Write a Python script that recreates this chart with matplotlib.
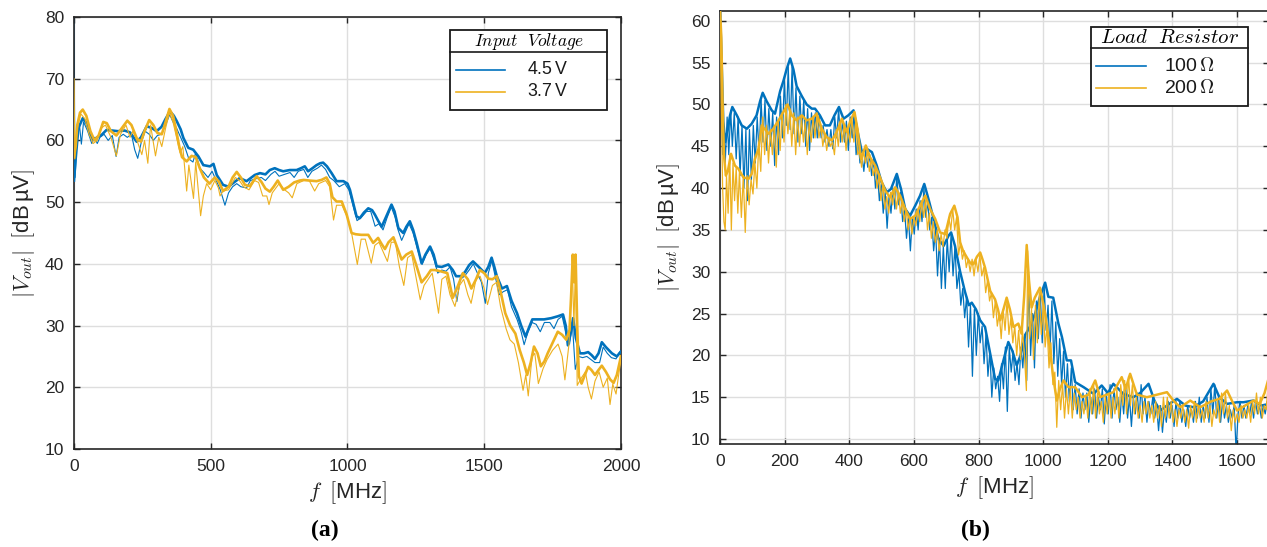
import matplotlib
matplotlib.use("Agg")
import matplotlib.pyplot as plt
from matplotlib.lines import Line2D
from matplotlib.patches import Rectangle

plt.rcParams["font.family"] = ["Liberation Sans", "DejaVu Sans"]
plt.rcParams["mathtext.fontset"] = "cm"

BLUE = "#0072BD"
ORANGE = "#EDB120"

# ---------------- panel (a): input voltage ----------------
a_45_raw = [(0, 80), (2, 65), (4, 54), (10, 59.5), (20, 62.5), (27, 59.4), (35, 63), (50, 61.5), (65, 59.5),
            (75, 60.5), (85, 59.5), (95, 60.5), (110, 61), (125, 60), (140, 60.8), (154, 57.4), (165, 60.5),
            (180, 61), (195, 60.5), (210, 61), (222, 58.5), (233, 57.1), (245, 59.5), (260, 61.5), (275, 61),
            (290, 60), (305, 60.8), (320, 61), (335, 62.5), (350, 64.2), (362, 63), (375, 62), (390, 60.5),
            (405, 59), (420, 57), (435, 56.5), (445, 58), (460, 55.5), (475, 54.8), (490, 54), (505, 55),
            (520, 53.5), (535, 52), (552, 49.5), (565, 51.5), (580, 52.5), (595, 53), (610, 52.5), (631, 52.3),
            (645, 53.5), (665, 53.8), (685, 54), (700, 53.5), (720, 54.5), (735, 55), (750, 54.2), (770, 54.5),
            (790, 54.8), (805, 54), (820, 55), (840, 55.3), (855, 54), (870, 55), (890, 55.5), (905, 56),
            (920, 55.3), (935, 54), (950, 53.5), (970, 52.5), (990, 53), (1005, 52), (1020, 49.5), (1035, 47),
            (1050, 47.5), (1070, 48.5), (1085, 48.5), (1101, 46.1), (1115, 46.5), (1130, 45.5), (1145, 47.5),
            (1160, 49.2), (1175, 47.5), (1185, 45.5), (1198, 43.8), (1210, 45), (1225, 46.5), (1240, 45),
            (1255, 42.5), (1273, 39.9), (1288, 41.5), (1302, 42.5), (1318, 40.5), (1330, 38.5), (1345, 39),
            (1360, 38.8), (1375, 39.5), (1388, 37.5), (1400, 33.9), (1412, 37.5), (1428, 38), (1445, 39),
            (1460, 40), (1475, 38.5), (1490, 37), (1504, 33.6), (1515, 38.5), (1528, 40.5), (1540, 38),
            (1555, 35), (1570, 35.5), (1585, 35.8), (1600, 33), (1620, 31), (1635, 29), (1646, 26.9),
            (1660, 29), (1675, 30.5), (1690, 30.2), (1705, 29), (1720, 30.5), (1740, 30.5), (1755, 29.5),
            (1770, 31), (1785, 31.5), (1795, 29.5), (1803, 27.7), (1812, 27), (1822, 30.5), (1833, 22.9),
            (1845, 25), (1860, 24.8), (1875, 25), (1890, 24.5), (1905, 24), (1922, 24), (1935, 26.5),
            (1950, 25.5), (1965, 24.8), (1982, 24.6), (1992, 25.5), (2000, 26)]

a_45_smooth = [(0, 53.5), (6, 57), (16, 62), (32, 63.6), (46, 62.8), (60, 60.8), (71, 60.1), (85, 60.5),
               (101, 60.9), (119, 61.7), (140, 61.6), (160, 61.5), (185, 61.6), (205, 61.3), (229, 59.8),
               (245, 60.5), (266, 62.3), (285, 62), (302, 61.5), (320, 62.2), (335, 63.5), (351, 64.7),
               (365, 64), (376, 63.1), (390, 61.8), (400, 60.4), (418, 58.8), (436, 58.5), (455, 57.4),
               (473, 56), (497, 55.8), (510, 56.2), (522, 54.4), (545, 52.8), (565, 52.5), (582, 53.1),
               (606, 53.9), (631, 53.4), (661, 54.4), (680, 54.7), (700, 54.5), (716, 55.2), (734, 55.5),
               (750, 55.2), (765, 55), (789, 55.2), (814, 55.2), (830, 55.5), (844, 55.8), (856, 55),
               (872, 55.5), (887, 56), (900, 56.3), (911, 56.4), (925, 55.8), (942, 54.7), (960, 53.4),
               (985, 53.4), (1000, 53), (1009, 52), (1020, 50), (1033, 47.7), (1045, 47.4), (1060, 48.3),
               (1076, 49), (1090, 48.7), (1100, 48), (1112, 47), (1125, 46), (1140, 47.5), (1161, 49.6),
               (1172, 48.5), (1186, 45.8), (1204, 45), (1215, 46), (1228, 46.9), (1240, 45.5), (1253, 43.4),
               (1271, 40.1), (1285, 41.5), (1302, 42.8), (1315, 41.5), (1326, 39.6), (1345, 39.5),
               (1369, 39.9), (1385, 39), (1397, 38), (1415, 38), (1430, 38.7), (1445, 39.8), (1459, 40.4),
               (1480, 39.5), (1502, 38.5), (1515, 39.5), (1527, 41), (1537, 39.5), (1546, 38), (1565, 36),
               (1583, 36.4), (1600, 34), (1620, 32), (1635, 30), (1651, 28.2), (1665, 29.8), (1676, 31),
               (1700, 31), (1719, 31), (1745, 31.2), (1769, 31.5), (1788, 31.8), (1798, 30), (1806, 26.8),
               (1815, 28.5), (1825, 31.2), (1835, 28), (1850, 25.5), (1865, 25.5), (1880, 25.7), (1893, 25.2),
               (1905, 24.6), (1918, 25.5), (1930, 27.3), (1945, 26.5), (1967, 25.5), (1985, 25), (2000, 25.8)]

a_37_raw = [(0, 70), (3, 57), (10, 61.5), (25, 64.3), (40, 63.5), (55, 61), (70, 59.5), (85, 60), (100, 62),
            (115, 62.5), (135, 60.5), (155, 57.5), (170, 61), (190, 62.5), (205, 60.5), (215, 61.5),
            (232, 59.8), (248, 57.7), (258, 60), (270, 56.3), (280, 62.5), (298, 57.5), (310, 60.5),
            (321, 59), (335, 62), (349, 64.5), (362, 63), (375, 60.5), (388, 58), (398, 59), (412, 51.8),
            (420, 56), (437, 50.6), (445, 56.5), (463, 47.8), (473, 51), (485, 53), (500, 52), (515, 53.5),
            (528, 52.3), (534, 51), (545, 51.8), (565, 52), (590, 54), (605, 53.5), (620, 52.5), (640, 52),
            (660, 53.5), (675, 53.2), (690, 51), (705, 51), (713, 49.6), (725, 51.5), (750, 53), (770, 52),
            (785, 51.5), (798, 50.7), (815, 53), (840, 53.5), (860, 53.5), (880, 51.8), (895, 53),
            (920, 53.5), (935, 52.5), (949, 47.1), (960, 49.5), (980, 49.5), (1000, 47.5), (1015, 45),
            (1036, 39.9), (1050, 44), (1065, 44), (1087, 40.1), (1100, 43), (1115, 43.5), (1130, 42),
            (1146, 40.4), (1160, 43.5), (1175, 43.5), (1190, 39.5), (1206, 36.5), (1220, 41), (1235, 41.5),
            (1250, 38), (1266, 34.2), (1280, 36.5), (1295, 37.5), (1310, 38.5), (1333, 32), (1345, 37.5),
            (1360, 38), (1375, 35), (1393, 33.1), (1410, 36.5), (1425, 37.5), (1440, 35), (1452, 33.6),
            (1470, 37.5), (1485, 38), (1500, 36), (1512, 33.4), (1530, 36.5), (1545, 37), (1560, 33),
            (1580, 29.5), (1594, 27.7), (1610, 27), (1625, 24), (1642, 19.5), (1652, 22), (1661, 18.6),
            (1675, 25), (1685, 25.5), (1698, 20.6), (1715, 23), (1730, 24.5), (1750, 26), (1770, 27),
            (1785, 25), (1795, 21.2), (1810, 27), (1822, 40), (1828, 30), (1834, 40.5), (1840, 20.3),
            (1855, 21.5), (1870, 22.5), (1880, 20), (1892, 18.1), (1905, 21), (1920, 22.5), (1935, 20),
            (1950, 21.5), (1960, 17.2), (1970, 20.5), (1982, 18.9), (1990, 21.5), (2000, 24.5)]

a_37_smooth = [(0, 57.3), (6, 59), (12, 62.5), (22, 64.5), (32, 65), (45, 64), (60, 61.5), (75, 60),
               (90, 60.8), (107, 63), (120, 62.8), (135, 61.5), (155, 60.8), (175, 62), (195, 63.2),
               (210, 62.5), (230, 60.3), (245, 59.8), (258, 61.5), (275, 63.3), (290, 62.5), (305, 61.2),
               (321, 61), (335, 63), (349, 65.1), (362, 64), (372, 62), (385, 59), (395, 57.3), (412, 56.6),
               (430, 57.5), (445, 57.3), (460, 55.5), (475, 54), (495, 53), (515, 54), (530, 53.3),
               (545, 51.8), (565, 52.5), (580, 54), (595, 54.9), (610, 54), (625, 52.8), (643, 52.6),
               (668, 54.2), (685, 53.3), (700, 52.2), (716, 51.7), (730, 52.5), (745, 53.5), (765, 52),
               (785, 52.5), (805, 53.2), (825, 53.5), (840, 53.6), (860, 53.5), (887, 53.4), (905, 53.6),
               (923, 54), (935, 53), (945, 50.8), (960, 50.1), (979, 50.1), (997, 48), (1015, 45),
               (1030, 44.8), (1050, 44.7), (1076, 44.7), (1094, 43.4), (1112, 44.2), (1125, 43.2),
               (1137, 42.4), (1150, 43.5), (1168, 44.3), (1183, 42.5), (1198, 40.7), (1215, 41.5),
               (1235, 42), (1250, 40), (1271, 37), (1290, 38), (1305, 39), (1320, 39), (1340, 38.8),
               (1365, 38.5), (1385, 34.5), (1400, 36), (1422, 38.5), (1440, 37.5), (1453, 36), (1470, 37.5),
               (1484, 39), (1500, 38.5), (1515, 37.6), (1530, 37.5), (1546, 38), (1560, 35.5), (1577, 32),
               (1595, 30), (1614, 28.7), (1630, 26), (1645, 24), (1657, 22), (1670, 24), (1682, 26.6),
               (1695, 25.5), (1707, 23.4), (1720, 24.2), (1732, 25.5), (1750, 27.2), (1769, 29),
               (1785, 28.5), (1800, 27.7), (1812, 29.3), (1818, 35), (1824, 41.5), (1829, 37), (1834, 41.5),
               (1840, 30), (1846, 21.8), (1856, 20.6), (1868, 22), (1880, 23.3), (1892, 22.8), (1905, 22),
               (1918, 22.8), (1930, 23.5), (1945, 22.5), (1960, 21.3), (1973, 20.7), (1985, 22), (2000, 25)]

# ---------------- panel (b): load resistor ----------------
b_100_raw = [(0, 61.5), (5, 55), (8, 44), (12, 47), (16, 43), (22, 48.5), (27, 44), (33, 49.3), (38, 45),
             (44, 49), (50, 43.5), (56, 48.5), (62, 41.5), (68, 47.5), (74, 40), (80, 47), (85, 38.5),
             (91, 47), (97, 41), (103, 47.5), (109, 43), (115, 48.5), (121, 44), (127, 50.5), (133, 45.5),
             (139, 50.5), (145, 44.5), (151, 49.5), (157, 45), (163, 49), (169, 42.7), (175, 48.5), (181, 44),
             (187, 51), (193, 46), (199, 53), (205, 47.5), (211, 54.5), (217, 47), (223, 54.5), (229, 46.5),
             (235, 52), (241, 45.5), (247, 51), (253, 46.5), (259, 50.5), (265, 45), (271, 49.5), (277, 44.5),
             (283, 49), (289, 46), (295, 49), (301, 46), (307, 48.5), (313, 46), (319, 47.5), (325, 45.5),
             (331, 47), (337, 45), (343, 47), (349, 44.7), (355, 48.5), (361, 46), (367, 49.5), (373, 45.5),
             (379, 48), (385, 45.5), (391, 48), (397, 44.5), (403, 48.5), (409, 46), (415, 49), (421, 44),
             (427, 46), (433, 43), (439, 44), (445, 42), (451, 44.5), (457, 42.5), (463, 44), (469, 41.5),
             (475, 43.5), (481, 40), (487, 42), (493, 38.5), (499, 40.5), (505, 37), (511, 39.5), (517, 35.2),
             (523, 39), (529, 37), (535, 40), (541, 37.5), (547, 41.5), (553, 38), (559, 39.5), (565, 36),
             (571, 37.5), (577, 34), (583, 36.5), (589, 32.5), (595, 36.5), (601, 34.5), (607, 37.5),
             (613, 35), (619, 38.5), (625, 36), (631, 40), (637, 36.5), (643, 38.5), (649, 35), (655, 36.5),
             (661, 32.5), (667, 35), (673, 29.5), (679, 34), (685, 28), (691, 33), (697, 28), (703, 34),
             (709, 30), (715, 34.5), (721, 29.5), (727, 33), (733, 28), (739, 30), (745, 26), (751, 28),
             (757, 24.5), (763, 27), (769, 21), (775, 26), (781, 17.5), (787, 25.5), (793, 20), (799, 25),
             (805, 21.5), (811, 23.5), (817, 19), (823, 22.5), (829, 17.5), (835, 20.5), (841, 15),
             (847, 18.5), (853, 16), (859, 17.5), (865, 14.5), (871, 19), (877, 16), (883, 21), (889, 13.3),
             (895, 21), (901, 18), (907, 20.5), (913, 17), (919, 19), (925, 16.5), (931, 21), (937, 18.5),
             (943, 22.5), (949, 17), (955, 29), (961, 20), (967, 25), (973, 18.5), (979, 26.5), (985, 22),
             (991, 27.5), (997, 21.5), (1003, 28.3), (1009, 23), (1015, 26), (1021, 20.5), (1027, 26.5),
             (1033, 19), (1039, 24), (1045, 17.5), (1051, 22), (1057, 16.5), (1063, 20.5), (1069, 15),
             (1075, 19), (1081, 14.5), (1087, 18.5), (1093, 13.5), (1099, 16.5), (1105, 13), (1111, 16),
             (1117, 12.5), (1123, 15.5), (1129, 13.5), (1135, 15.5), (1141, 12), (1147, 15), (1153, 13),
             (1159, 16), (1165, 12.5), (1171, 15), (1177, 13.5), (1183, 16), (1189, 11.8), (1195, 15.5),
             (1201, 13), (1207, 16.5), (1213, 12.5), (1219, 16), (1225, 13.5), (1231, 15), (1237, 12),
             (1243, 15.5), (1249, 13), (1255, 16.5), (1261, 12.5), (1267, 15), (1273, 11.5), (1279, 15),
             (1285, 13), (1291, 15.5), (1297, 12.5), (1303, 16.5), (1309, 13), (1315, 15), (1321, 12),
             (1327, 14.5), (1333, 13), (1339, 15), (1345, 12.5), (1351, 14), (1357, 11), (1363, 14),
             (1369, 10.8), (1375, 13.5), (1381, 12), (1387, 14.5), (1393, 12.5), (1399, 14), (1405, 11.5),
             (1411, 14.5), (1417, 12.5), (1423, 14.5), (1429, 12), (1435, 13.5), (1441, 11.5), (1447, 14),
             (1453, 12.5), (1459, 13.5), (1465, 12), (1471, 14.5), (1477, 12.5), (1483, 15), (1489, 12),
             (1495, 14), (1501, 12.5), (1507, 15), (1513, 12), (1519, 16), (1525, 13), (1531, 16.5),
             (1537, 12.5), (1543, 15), (1549, 12), (1555, 14.5), (1561, 12.5), (1567, 14), (1573, 12),
             (1579, 13.5), (1585, 12.5), (1591, 14), (1597, 8.5), (1603, 13), (1609, 14.5), (1615, 12.5),
             (1621, 14), (1627, 12.5), (1633, 14), (1639, 13), (1645, 14.5), (1651, 12.5), (1657, 14.5),
             (1663, 13), (1669, 14), (1675, 12.5), (1681, 14), (1687, 13), (1693, 14.5), (1700, 13.5)]

b_100_smooth = [(0, 61.5), (5, 55), (10, 48), (16, 45.5), (24, 47), (31, 48.7), (38, 49.7), (52, 48.7),
                (67, 47.5), (83, 47.1), (98, 47.7), (113, 48.7), (124, 50.4), (132, 51.4), (144, 50.4),
                (160, 49.3), (170, 48.9), (186, 51.6), (196, 52.8), (206, 54.2), (217, 55.5), (227, 54.2),
                (237, 52.2), (253, 51), (268, 50), (284, 49.5), (294, 49.5), (309, 48.7), (325, 47.5),
                (340, 47.5), (354, 48.7), (368, 49.7), (382, 48.3), (397, 48.7), (413, 49.3), (426, 46.7),
                (439, 44.3), (454, 44.7), (470, 44.3), (485, 42.7), (500, 40.7), (516, 39.5), (529, 39.9),
                (547, 41.7), (560, 39.9), (573, 37.5), (588, 36.7), (604, 37.9), (619, 39.1), (632, 40.5),
                (645, 38.7), (661, 36.3), (676, 33.9), (692, 33.1), (707, 34.3), (715, 34.7), (727, 33.1),
                (743, 30), (758, 27.6), (770, 26), (779, 26.3), (792, 25.5), (805, 24.2), (820, 23.4),
                (836, 20.2), (851, 17.2), (861, 17), (877, 19.4), (892, 21.6), (905, 20.5), (918, 18.8),
                (930, 20), (945, 22.5), (960, 23.5), (975, 25), (990, 27), (1006, 28.7), (1016, 27),
                (1031, 26.9), (1047, 23.8), (1058, 22.2), (1073, 19.4), (1086, 19.4), (1099, 16.8),
                (1125, 16.2), (1156, 15.4), (1181, 16.4), (1200, 15.5), (1217, 16.6), (1248, 15.4),
                (1279, 15), (1300, 15.5), (1326, 16.6), (1345, 14.5), (1362, 13.4), (1390, 14.2),
                (1414, 14.8), (1440, 14), (1465, 13.8), (1495, 14.5), (1527, 16.6), (1545, 15), (1569, 14.2),
                (1600, 14.4), (1620, 14.4), (1651, 14.6), (1675, 14), (1700, 14.2)]

b_200_raw = [(0, 61.5), (4, 50), (8, 40), (12, 36), (16, 35), (20, 41.5), (25, 37), (30, 44), (35, 35),
             (40, 43), (45, 38.5), (50, 42.5), (55, 37), (60, 42), (66, 36.5), (72, 41.5), (78, 34.7),
             (84, 41.5), (90, 38), (96, 41), (102, 39.3), (108, 43), (114, 40), (120, 45.5), (126, 42),
             (132, 48.5), (138, 44), (144, 47.5), (150, 43), (156, 47), (162, 44), (168, 47.5), (174, 42.5),
             (180, 48), (186, 44.5), (192, 49), (198, 45.5), (204, 50), (210, 46.5), (216, 49.5), (222, 45),
             (228, 49), (234, 44), (240, 48.5), (246, 45), (252, 48.5), (258, 45.5), (264, 48), (270, 44),
             (276, 48), (282, 45.5), (288, 48.5), (294, 46), (300, 49), (306, 46), (312, 47.5), (318, 45),
             (324, 46.5), (330, 44.5), (336, 46), (342, 45), (348, 45.5), (354, 44), (360, 47), (366, 45),
             (372, 48), (378, 45.5), (384, 47.5), (390, 44.5), (396, 47), (402, 45.5), (408, 48.5),
             (414, 45.5), (420, 48), (426, 44), (432, 44.5), (438, 42.5), (444, 44.5), (450, 43), (456, 44.5),
             (462, 42), (468, 43.5), (474, 41.5), (480, 42.5), (486, 40), (492, 41.5), (498, 38.5),
             (504, 40.5), (510, 37.5), (516, 39), (522, 37), (528, 39.5), (534, 38), (540, 40), (546, 37.5),
             (552, 39.5), (558, 37), (564, 38.5), (570, 36), (576, 37.5), (582, 35), (588, 36.5), (594, 34.5),
             (600, 36.5), (606, 35.5), (612, 37.5), (618, 36), (624, 38.5), (630, 36.5), (636, 38.5),
             (642, 35), (648, 37), (654, 34), (660, 36), (666, 33.5), (672, 35), (678, 32.5), (684, 34.5),
             (690, 33), (696, 35), (702, 34), (708, 36.5), (714, 35), (720, 37.5), (726, 35), (732, 36.5),
             (738, 32), (744, 33.5), (750, 31.5), (756, 32.5), (762, 30.5), (768, 31.5), (774, 30),
             (780, 31.5), (786, 29.5), (792, 31.5), (798, 30), (804, 32), (810, 29.5), (816, 30.5),
             (822, 27.5), (828, 29), (834, 26.5), (840, 27.5), (846, 24.5), (852, 26.5), (858, 23.5),
             (864, 25), (870, 22), (876, 25.5), (882, 23), (888, 26.5), (894, 22.5), (900, 24.5), (906, 21.5),
             (912, 23.5), (918, 20), (924, 23), (930, 19.5), (936, 23), (942, 20), (948, 15.8), (952, 32.5),
             (958, 22), (964, 25.5), (970, 19.5), (976, 26), (982, 21.5), (988, 27.5), (994, 22.5),
             (1000, 26), (1006, 21), (1012, 23.5), (1018, 18.5), (1024, 21.5), (1030, 16.5), (1036, 18),
             (1042, 11.4), (1048, 17), (1054, 13.5), (1060, 16.5), (1066, 12.5), (1072, 16), (1078, 13),
             (1084, 16), (1090, 12.5), (1096, 15.5), (1102, 13.5), (1108, 15), (1114, 12.5), (1120, 14.5),
             (1126, 13), (1132, 15), (1138, 12.5), (1144, 16), (1150, 13), (1156, 16.5), (1162, 12.5),
             (1168, 15.5), (1174, 13), (1180, 14.5), (1186, 12), (1192, 15), (1198, 13), (1204, 15.5),
             (1210, 12.5), (1216, 15), (1222, 13), (1228, 16), (1234, 12.5), (1240, 16.5), (1246, 14),
             (1252, 17), (1258, 13), (1264, 17.5), (1270, 14), (1276, 16.5), (1282, 13), (1288, 15),
             (1294, 12.5), (1300, 14), (1306, 12), (1312, 14.5), (1318, 13), (1324, 14.5), (1330, 12.5),
             (1336, 14), (1342, 12), (1348, 14.5), (1354, 12.5), (1360, 14), (1366, 11.5), (1372, 15),
             (1378, 12.5), (1384, 15), (1390, 12.5), (1396, 14.5), (1402, 12), (1408, 13.5), (1414, 11.5),
             (1420, 13.5), (1426, 12.5), (1432, 14), (1438, 12), (1444, 13.5), (1450, 11.3), (1456, 14),
             (1462, 12.5), (1468, 14.5), (1474, 12), (1480, 14), (1486, 12.5), (1492, 13.5), (1498, 12),
             (1504, 14.5), (1510, 12.5), (1516, 14), (1522, 11.5), (1528, 13.5), (1534, 12.5), (1540, 14.5),
             (1546, 12), (1552, 15.5), (1558, 13), (1564, 15.5), (1570, 12.5), (1576, 14), (1582, 11),
             (1588, 13.5), (1594, 12), (1600, 13), (1606, 12), (1612, 14), (1618, 12.5), (1624, 13.5),
             (1630, 12.5), (1636, 14), (1642, 12), (1648, 14.5), (1654, 13), (1660, 15.5), (1666, 13),
             (1672, 15), (1678, 12.5), (1684, 14), (1690, 13.5), (1696, 16.5), (1700, 17.5)]

b_200_smooth = [(0, 61.5), (4, 58), (8, 50), (12, 44), (18, 41.5), (24, 42), (34, 44.1), (46, 42.7),
                (57, 42.3), (72, 41.3), (88, 41.1), (98, 41.7), (108, 43.5), (119, 44.7), (129, 47.5),
                (140, 47), (150, 46.5), (165, 47.1), (181, 48.1), (196, 49.1), (209, 50), (222, 48.7),
                (237, 48.1), (253, 48.7), (268, 48.1), (284, 48.3), (299, 48.9), (315, 47.1), (330, 46.1),
                (346, 45.7), (361, 46.7), (377, 48.3), (392, 46.7), (402, 47.9), (416, 49.1), (426, 46.9),
                (436, 43.5), (451, 45.1), (464, 43.7), (480, 42.7), (495, 41.3), (511, 39.7), (526, 38.9),
                (542, 40.1), (557, 39.1), (573, 37.5), (588, 36.3), (604, 36.7), (619, 37.9), (635, 39.1),
                (650, 37.5), (666, 36.3), (681, 34.7), (697, 34.5), (712, 36.9), (725, 37.9), (735, 36.5),
                (743, 33.5), (752, 32.5), (764, 31.7), (775, 31), (784, 30.9), (795, 31.8), (805, 32.3),
                (812, 31.5), (820, 30.5), (836, 27.7), (851, 26.7), (860, 25.5), (867, 24.2), (877, 25.5),
                (887, 26.9), (897, 25.5), (908, 23.4), (923, 23.8), (933, 22.6), (941, 27), (949, 33.2),
                (956, 29), (964, 25.7), (974, 26.9), (990, 28.1), (1006, 25), (1016, 22.2), (1031, 17.4),
                (1042, 14.6), (1052, 16), (1063, 17), (1078, 16.2), (1099, 16.2), (1120, 15), (1140, 15.3),
                (1161, 17), (1176, 15), (1197, 15.3), (1217, 15.6), (1243, 17.4), (1255, 16), (1269, 17.8),
                (1290, 15.3), (1321, 15), (1352, 15.3), (1383, 15.6), (1405, 14.5), (1424, 13.8),
                (1455, 14.6), (1486, 13.8), (1520, 14.5), (1545, 14.8), (1569, 15.8), (1585, 14.5),
                (1600, 13.4), (1625, 14), (1651, 14.6), (1670, 14.2), (1685, 15.5), (1700, 17.6)]

a_title = r"$Input\ \ Voltage$"
a_labels = ["4.5$\\,$V", "3.7$\\,$V"]
b_title = r"$Load\ \ Resistor$"
b_labels = ["100$\\,\\Omega$", "200$\\,\\Omega$"]

W, H = 1267, 547


def fx(px):
    return px / W


def fy(py):
    return 1 - py / H


def draw(ax, pts, color, lw, z):
    xs = [p[0] for p in pts]
    ys = [p[1] for p in pts]
    return ax.plot(xs, ys, color=color, lw=lw, zorder=z, solid_joinstyle="round")[0]


def style_axes(ax, xlim, ylim, xticks, yticks):
    ax.set_xlim(*xlim)
    ax.set_ylim(*ylim)
    ax.set_xticks(xticks)
    ax.set_yticks(yticks)
    ax.grid(True, color="#dedede", lw=1.0)
    ax.set_axisbelow(True)
    ax.tick_params(direction="in", length=4, width=1.0, top=True, right=True,
                   labelsize=12.5, colors="#262626", pad=7)
    for s in ax.spines.values():
        s.set_color("#262626")
        s.set_linewidth(1.2)
    ax.set_xlabel(r"$f\;\;[$MHz$]$", fontsize=16, color="#262626", labelpad=4)
    ax.set_ylabel(r"$|V_{out}|\;\;[$dB$\,$µV$]$", fontsize=16, color="#262626", labelpad=6)


def boxed_legend(box, title, title_fs, sep_y, rows, colors, labels, label_fs, line_x, text_x):
    """Legend frame with a ruled title row, laid out in figure pixels."""
    x0, y0, x1, y1 = box
    fig.add_artist(Rectangle((fx(x0), fy(y1)), fx(x1) - fx(x0), fy(y0) - fy(y1),
                             transform=fig.transFigure, facecolor="white",
                             edgecolor="#1a1a1a", lw=1.3, zorder=30))
    fig.text(fx((x0 + x1) / 2), fy((y0 + sep_y) / 2), title, fontsize=title_fs,
             ha="center", va="center", zorder=31)
    fig.add_artist(Line2D([fx(x0), fx(x1)], [fy(sep_y)] * 2, transform=fig.transFigure,
                          color="#1a1a1a", lw=1.2, zorder=31))
    for ry, c, lab in zip(rows, colors, labels):
        fig.add_artist(Line2D([fx(line_x[0]), fx(line_x[1])], [fy(ry)] * 2,
                              transform=fig.transFigure, color=c, lw=1.2, zorder=31))
        fig.text(fx(text_x), fy(ry), lab, fontsize=label_fs, ha="left", va="center",
                 color="#1a1a1a", zorder=31)


fig = plt.figure(figsize=(W / 100, H / 100), dpi=100)
ax_a = fig.add_axes([0.0584, 0.1792, 0.4317, 0.7897])
ax_b = fig.add_axes([0.5683, 0.1887, 0.4336, 0.7903])

draw(ax_a, a_45_raw, BLUE, 0.8, 2)
draw(ax_a, a_45_smooth, BLUE, 1.9, 3)
draw(ax_a, a_37_raw, ORANGE, 0.8, 4)
draw(ax_a, a_37_smooth, ORANGE, 1.9, 5)
style_axes(ax_a, (0, 2000), (10, 80), range(0, 2001, 500), range(10, 81, 10))

draw(ax_b, b_100_raw, BLUE, 0.9, 2)
draw(ax_b, b_100_smooth, BLUE, 1.8, 3)
draw(ax_b, b_200_raw, ORANGE, 0.9, 4)
draw(ax_b, b_200_smooth, ORANGE, 1.8, 5)
style_axes(ax_b, (0, 1700), (9.43, 61.12), range(0, 1601, 200), range(10, 61, 5))

boxed_legend((450, 30, 607, 110), a_title, 12.5, 52, (70, 92), (BLUE, ORANGE), a_labels, 12.8,
             (456, 505), 527)
boxed_legend((1091, 27, 1248, 106), b_title, 15, 48, (66, 88), (BLUE, ORANGE), b_labels, 14,
             (1096, 1146), 1164)

fig.text(0.256, 0.031, "(a)", fontsize=17, fontweight="bold", family="Liberation Serif",
         ha="center", va="center")
fig.text(0.770, 0.031, "(b)", fontsize=17, fontweight="bold", family="Liberation Serif",
         ha="center", va="center")

fig.savefig("out.png", dpi=100)
